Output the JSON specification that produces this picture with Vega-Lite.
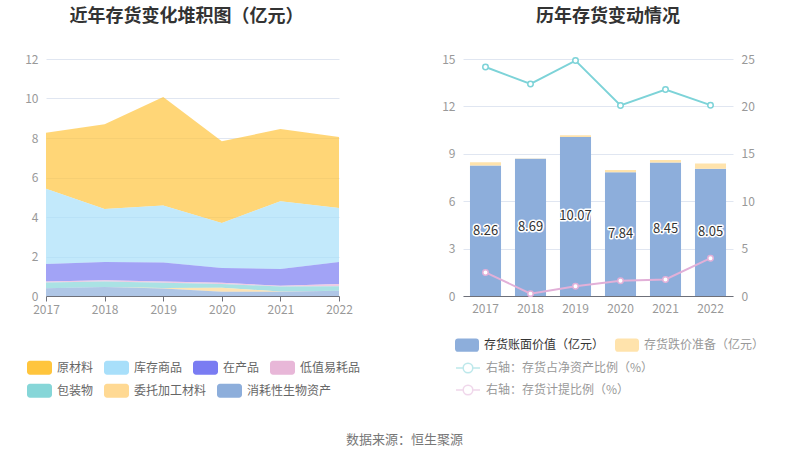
{
  "$schema": "https://vega.github.io/schema/vega-lite/v6.json",
  "background": "white",
  "padding": {"left": 16, "top": 8, "right": 5, "bottom": 5},
  "title": {"text": "数据来源：恒生聚源", "orient": "bottom", "anchor": "middle", "fontSize": 13, "fontWeight": "normal", "color": "#777", "offset": 36, "dx": 14},
  "datasets": {
    "inv": [
      {"year": "2017", "s": "原材料", "v": 2.83}, {"year": "2017", "s": "库存商品", "v": 3.81}, {"year": "2017", "s": "在产品", "v": 0.88}, {"year": "2017", "s": "低值易耗品", "v": 0.06}, {"year": "2017", "s": "包装物", "v": 0.29}, {"year": "2017", "s": "委托加工材料", "v": 0}, {"year": "2017", "s": "消耗性生物资产", "v": 0.39},
      {"year": "2018", "s": "原材料", "v": 4.28}, {"year": "2018", "s": "库存商品", "v": 2.69}, {"year": "2018", "s": "在产品", "v": 0.92}, {"year": "2018", "s": "低值易耗品", "v": 0.06}, {"year": "2018", "s": "包装物", "v": 0.28}, {"year": "2018", "s": "委托加工材料", "v": 0}, {"year": "2018", "s": "消耗性生物资产", "v": 0.46},
      {"year": "2019", "s": "原材料", "v": 5.49}, {"year": "2019", "s": "库存商品", "v": 2.89}, {"year": "2019", "s": "在产品", "v": 0.96}, {"year": "2019", "s": "低值易耗品", "v": 0.06}, {"year": "2019", "s": "包装物", "v": 0.27}, {"year": "2019", "s": "委托加工材料", "v": 0.02}, {"year": "2019", "s": "消耗性生物资产", "v": 0.38},
      {"year": "2020", "s": "原材料", "v": 4.15}, {"year": "2020", "s": "库存商品", "v": 2.27}, {"year": "2020", "s": "在产品", "v": 0.75}, {"year": "2020", "s": "低值易耗品", "v": 0.06}, {"year": "2020", "s": "包装物", "v": 0.19}, {"year": "2020", "s": "委托加工材料", "v": 0.21}, {"year": "2020", "s": "消耗性生物资产", "v": 0.21},
      {"year": "2021", "s": "原材料", "v": 3.65}, {"year": "2021", "s": "库存商品", "v": 3.43}, {"year": "2021", "s": "在产品", "v": 0.85}, {"year": "2021", "s": "低值易耗品", "v": 0.04}, {"year": "2021", "s": "包装物", "v": 0.25}, {"year": "2021", "s": "委托加工材料", "v": 0.01}, {"year": "2021", "s": "消耗性生物资产", "v": 0.22},
      {"year": "2022", "s": "原材料", "v": 3.60}, {"year": "2022", "s": "库存商品", "v": 2.73}, {"year": "2022", "s": "在产品", "v": 1.11}, {"year": "2022", "s": "低值易耗品", "v": 0.12}, {"year": "2022", "s": "包装物", "v": 0.22}, {"year": "2022", "s": "委托加工材料", "v": 0}, {"year": "2022", "s": "消耗性生物资产", "v": 0.27}
    ],
    "stackorder": [
      {"s": "消耗性生物资产", "k": 1}, {"s": "委托加工材料", "k": 2}, {"s": "包装物", "k": 3}, {"s": "低值易耗品", "k": 4}, {"s": "在产品", "k": 5}, {"s": "库存商品", "k": 6}, {"s": "原材料", "k": 7}
    ],
    "bars": [
      {"year": "2017", "s": "存货账面价值（亿元）", "v": 8.26}, {"year": "2017", "s": "存货跌价准备（亿元）", "v": 0.21},
      {"year": "2018", "s": "存货账面价值（亿元）", "v": 8.69}, {"year": "2018", "s": "存货跌价准备（亿元）", "v": 0.02},
      {"year": "2019", "s": "存货账面价值（亿元）", "v": 10.07}, {"year": "2019", "s": "存货跌价准备（亿元）", "v": 0.10},
      {"year": "2020", "s": "存货账面价值（亿元）", "v": 7.84}, {"year": "2020", "s": "存货跌价准备（亿元）", "v": 0.13},
      {"year": "2021", "s": "存货账面价值（亿元）", "v": 8.45}, {"year": "2021", "s": "存货跌价准备（亿元）", "v": 0.15},
      {"year": "2022", "s": "存货账面价值（亿元）", "v": 8.05}, {"year": "2022", "s": "存货跌价准备（亿元）", "v": 0.33}
    ],
    "ratio": [
      {"year": "2017", "s": "右轴：存货占净资产比例（%）", "v": 24.16}, {"year": "2017", "s": "右轴：存货计提比例（%）", "v": 2.49},
      {"year": "2018", "s": "右轴：存货占净资产比例（%）", "v": 22.37}, {"year": "2018", "s": "右轴：存货计提比例（%）", "v": 0.25},
      {"year": "2019", "s": "右轴：存货占净资产比例（%）", "v": 24.83}, {"year": "2019", "s": "右轴：存货计提比例（%）", "v": 1.02},
      {"year": "2020", "s": "右轴：存货占净资产比例（%）", "v": 20.10}, {"year": "2020", "s": "右轴：存货计提比例（%）", "v": 1.62},
      {"year": "2021", "s": "右轴：存货占净资产比例（%）", "v": 21.78}, {"year": "2021", "s": "右轴：存货计提比例（%）", "v": 1.75},
      {"year": "2022", "s": "右轴：存货占净资产比例（%）", "v": 20.13}, {"year": "2022", "s": "右轴：存货计提比例（%）", "v": 3.99}
    ]
  },
  "spacing": 124,
  "bounds": "flush",
  "resolve": {"scale": {"color": "independent", "stroke": "independent", "fill": "independent"}, "legend": {"color": "independent", "stroke": "independent", "fill": "independent"}},
  "hconcat": [
    {
      "width": 293,
      "height": 237,
      "title": {"text": "近年存货变化堆积图（亿元）", "fontSize": 18, "fontWeight": "bold", "color": "#333", "offset": 27, "anchor": "middle", "dx": -6},
      "data": {"name": "inv"},
      "layer": [
        {
          "transform": [{"lookup": "s", "from": {"data": {"name": "stackorder"}, "key": "s", "fields": ["k"]}}],
          "mark": {"type": "area", "opacity": 0.7},
          "encoding": {
            "x": {"field": "year", "type": "ordinal", "scale": {"type": "point", "padding": 0}, "axis": {"title": null, "labelAngle": 0, "ticks": true, "tickSize": 5, "tickColor": "#6E7079", "domainColor": "#6E7079", "labelPadding": 3, "grid": false}},
            "y": {"field": "v", "type": "quantitative", "stack": "zero", "scale": {"domain": [0, 12]}, "axis": {"title": null, "values": [0, 2, 4, 6, 8, 10, 12], "grid": true, "gridColor": "#E0E6F1", "domain": false, "ticks": false, "labelPadding": 8, "minExtent": 30, "maxExtent": 30}},
            "order": {"field": "k", "type": "quantitative", "sort": "ascending"},
            "color": {
              "field": "s", "type": "nominal",
              "scale": {"domain": ["原材料", "库存商品", "在产品", "低值易耗品", "包装物", "委托加工材料", "消耗性生物资产"], "range": ["#FFC53D", "#A8DFFA", "#7A7CF2", "#E8B7D8", "#86D6D8", "#FFD993", "#8DAEDB"]},
              "legend": {"orient": "none", "legendX": -19, "legendY": 296, "direction": "horizontal", "columnPadding": 10, "symbolType": "M-0.76,-0.56 H0.76 A0.24,0.24 0 0 1 1,-0.32 V0.32 A0.24,0.24 0 0 1 0.76,0.56 H-0.76 A0.24,0.24 0 0 1 -1,0.32 V-0.32 A0.24,0.24 0 0 1 -0.76,-0.56 Z", "symbolSize": 625, "symbolOpacity": 1, "symbolStrokeWidth": 0, "labelFontSize": 12, "labelColor": "#666", "labelOffset": 5, "title": null,
                "values": ["原材料", "库存商品", "在产品", "低值易耗品"]}
            }
          }
        },
        {
          "transform": [{"lookup": "s", "from": {"data": {"name": "stackorder"}, "key": "s", "fields": ["k"]}}],
          "mark": {"type": "point", "opacity": 0, "filled": true},
          "encoding": {
            "x": {"field": "year", "type": "ordinal", "scale": {"type": "point", "padding": 0}, "axis": {"title": null, "labelAngle": 0, "ticks": true, "tickSize": 5, "tickColor": "#6E7079", "domainColor": "#6E7079", "labelPadding": 3, "grid": false}},
            "y": {"field": "v", "type": "quantitative", "stack": "zero", "scale": {"domain": [0, 12]}, "axis": {"title": null, "values": [0, 2, 4, 6, 8, 10, 12], "grid": true, "gridColor": "#E0E6F1", "domain": false, "ticks": false, "labelPadding": 8, "minExtent": 30, "maxExtent": 30}},
            "order": {"field": "k", "type": "quantitative", "sort": "ascending"},
            "fill": {
              "field": "s", "type": "nominal",
              "scale": {"domain": ["包装物", "委托加工材料", "消耗性生物资产"], "range": ["#86D6D8", "#FFD993", "#8DAEDB"]},
              "legend": {"orient": "none", "legendX": -19, "legendY": 319, "direction": "horizontal", "columnPadding": 10, "symbolType": "M-0.76,-0.56 H0.76 A0.24,0.24 0 0 1 1,-0.32 V0.32 A0.24,0.24 0 0 1 0.76,0.56 H-0.76 A0.24,0.24 0 0 1 -1,0.32 V-0.32 A0.24,0.24 0 0 1 -0.76,-0.56 Z", "symbolSize": 625, "symbolOpacity": 1, "symbolStrokeWidth": 0, "labelFontSize": 12, "labelColor": "#666", "labelOffset": 5, "title": null}
            }
          }
        }
      ]
    },
    {
      "width": 270,
      "height": 237,
      "title": {"text": "历年存货变动情况", "fontSize": 18, "fontWeight": "bold", "color": "#333", "offset": 27, "anchor": "middle", "dx": 10},
      "layer": [
        {
          "data": {"name": "bars"},
          "mark": {"type": "bar"},
          "encoding": {
            "x": {"field": "year", "type": "ordinal", "scale": {"paddingInner": 0.31, "paddingOuter": 0.155}, "axis": {"title": null, "labelAngle": 0, "ticks": false, "domainColor": "#6E7079", "labelPadding": 7}},
            "y": {"field": "v", "type": "quantitative", "stack": "zero", "scale": {"domain": [0, 15]}, "axis": {"title": null, "values": [0, 3, 6, 9, 12, 15], "grid": true, "gridColor": "#E0E6F1", "domain": false, "ticks": false, "labelPadding": 8, "minExtent": 30, "maxExtent": 30}},
            "color": {"field": "s", "type": "nominal", "scale": {"domain": ["存货账面价值（亿元）", "存货跌价准备（亿元）"], "range": ["#8DAEDB", "#FFE3AC"]},
              "legend": {"orient": "none", "legendX": -8, "legendY": 274, "direction": "horizontal", "columnPadding": 10, "symbolType": "M-0.76,-0.56 H0.76 A0.24,0.24 0 0 1 1,-0.32 V0.32 A0.24,0.24 0 0 1 0.76,0.56 H-0.76 A0.24,0.24 0 0 1 -1,0.32 V-0.32 A0.24,0.24 0 0 1 -0.76,-0.56 Z", "symbolSize": 576, "symbolOpacity": 1, "symbolStrokeWidth": 0, "labelFontSize": 12, "labelColor": "#999", "labelOffset": 5, "labelLimit": 300, "title": null,
                "encode": {"labels": {"update": {"fill": {"signal": "datum.label === '存货账面价值（亿元）' ? '#333' : '#999'"}}}}}},
            "order": {"field": "s", "sort": "ascending"}
          }
        },
        {
          "data": {"name": "bars"},
          "transform": [{"filter": "datum.s === '存货账面价值（亿元）'"}],
          "mark": {"type": "text", "fontSize": 13, "stroke": "white", "strokeWidth": 3, "strokeJoin": "round", "fill": "#333"},
          "encoding": {
            "x": {"field": "year", "type": "ordinal"},
            "y": {"field": "v", "type": "quantitative", "scale": {"domain": [0, 30]}, "axis": null},
            "text": {"field": "v", "type": "quantitative", "format": ".2f"}
          }
        },
        {
          "data": {"name": "bars"},
          "transform": [{"filter": "datum.s === '存货账面价值（亿元）'"}],
          "mark": {"type": "text", "fontSize": 13, "fill": "#333"},
          "encoding": {
            "x": {"field": "year", "type": "ordinal"},
            "y": {"field": "v", "type": "quantitative", "scale": {"domain": [0, 30]}, "axis": null},
            "text": {"field": "v", "type": "quantitative", "format": ".2f"}
          }
        },
        {
          "data": {"name": "ratio"},
          "mark": {"type": "line", "strokeWidth": 2, "point": {"filled": false, "fill": "white", "size": 30, "strokeWidth": 1.5}},
          "encoding": {
            "x": {"field": "year", "type": "ordinal"},
            "y": {"field": "v", "type": "quantitative", "scale": {"domain": [0, 25]}, "axis": {"title": null, "orient": "right", "values": [0, 5, 10, 15, 20, 25], "grid": false, "domain": false, "ticks": false, "labelPadding": 8}},
            "stroke": {"field": "s", "type": "nominal", "scale": {"domain": ["右轴：存货占净资产比例（%）", "右轴：存货计提比例（%）"], "range": ["#7DD3D8", "#E2B0D8"]},
              "legend": {"orient": "none", "legendX": -8, "legendY": 296, "direction": "vertical", "rowPadding": 1, "symbolType": "M-1,0 H-0.4 M0.4,0 H1 M-0.4,0 A0.4,0.4 0 1 1 0.4,0 A0.4,0.4 0 1 1 -0.4,0", "symbolSize": 576, "symbolStrokeWidth": 1.5, "symbolFillColor": "#fff", "symbolOpacity": 0.5, "labelFontSize": 12, "labelColor": "#999", "labelOffset": 5, "labelLimit": 300, "title": null}}
          }
        }
      ],
      "resolve": {"scale": {"y": "independent"}}
    }
  ],
  "config": {
    "font": "Noto Sans CJK SC",
    "view": {"stroke": null},
    "axis": {"labelColor": "#999", "labelFontSize": 12}
  }
}
